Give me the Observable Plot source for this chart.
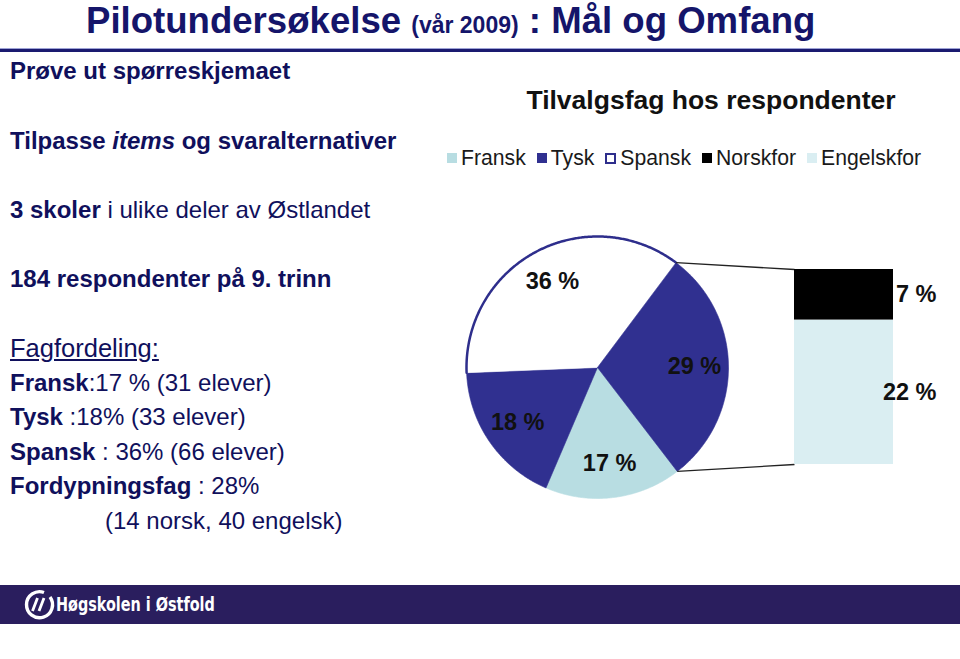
<!DOCTYPE html>
<html><head><meta charset="utf-8">
<script src="https://cdn.jsdelivr.net/npm/d3@7"></script>
<script src="https://cdn.jsdelivr.net/npm/@observablehq/plot@0.6"></script>
<style>
html,body{margin:0;padding:0;background:#fff;}
#slide{position:relative;width:960px;height:659px;overflow:hidden;font-family:"Liberation Sans",Arial,sans-serif;}
.t{position:absolute;white-space:nowrap;line-height:1;}
.navy{color:#10105c;}
#chart{position:absolute;left:440px;top:220px;}
.leg{position:absolute;left:447px;top:147px;display:flex;align-items:center;font-size:21.2px;line-height:22px;color:#1a1a1a;white-space:nowrap;}
.leg .it{display:flex;align-items:center;margin-right:11px;}
.leg .sw{width:10px;height:10px;margin-right:4px;box-sizing:border-box;}
</style></head><body><div id="slide"></div>
<script>
// ---- data ----
const pieNames = ["Fransk", "Tysk", "Spansk"];
const piePupils = [31, 33, 66];
const pieLabels = ["17 %", "18 %", "36 %"];
const otherName = "Fordypningsfag";
const otherLabel = "29 %";
const barNames = ["Norskfor", "Engelskfor"];
const barPupils = [14, 40];
const barLabels = ["7 %", "22 %"];
const legendNames = ["Fransk", "Tysk", "Spansk", "Norskfor", "Engelskfor"];
const chartTitle = "Tilvalgsfag hos respondenter";

const colors = {Fransk:"#b8dde2", Tysk:"#303090", Spansk:"#ffffff", Fordypningsfag:"#303090", Norskfor:"#000000", Engelskfor:"#daeef2"};
const spanskEdge = "#2e2e8c";

const slide = document.getElementById("slide");
function addText(html, x, cy, size, extra) {
  const d = document.createElement("div");
  d.className = "t navy";
  d.style.left = x + "px";
  d.style.top = (cy - size / 2) + "px";
  d.style.fontSize = size + "px";
  if (extra) Object.assign(d.style, extra);
  d.innerHTML = html;
  slide.appendChild(d);
  return d;
}

// title + rule
addText('<b>Pilotundersøkelse <span style="font-size:23px">(vår 2009)</span> : Mål og Omfang</b>', 86, 21, 36.6, {color:"#15156a"});
const rule = document.createElement("div");
Object.assign(rule.style, {position:"absolute", left:"0px", top:"48px", width:"960px", height:"3px", background:"#1a1a70", borderTop:"1px solid #9ea3d6"});
slide.appendChild(rule);

// left text
const S = 24;
addText("<b>Prøve ut spørreskjemaet</b>", 10, 71, S);
addText("<b>Tilpasse <i>items</i> og svaralternativer</b>", 10, 141, S);
addText("<b>3 skoler</b> i ulike deler av Østlandet", 10, 210, S);
addText("<b>184 respondenter på 9. trinn</b>", 10, 279, S);
addText('<span style="text-decoration:underline">Fagfordeling:</span>', 10, 349, 25.5);
addText("<b>Fransk</b>:17 % (31 elever)", 10, 383, S);
addText("<b>Tysk</b> :18% (33 elever)", 10, 417, S);
addText("<b>Spansk</b> : 36% (66 elever)", 10, 452, S);
addText("<b>Fordypningsfag</b> : 28%", 10, 486, S);
addText("(14 norsk, 40 engelsk)", 105, 521, S);

// chart title
addText("<b>" + chartTitle + "</b>", 711 - 480, 100, 26.5, {color:"#111", width:"960px", textAlign:"center"});

// legend
const leg = document.createElement("div");
leg.className = "leg";
legendNames.forEach(n => {
  const it = document.createElement("div"); it.className = "it";
  const sw = document.createElement("div"); sw.className = "sw";
  if (n === "Spansk") { sw.style.background = "#fff"; sw.style.border = "2px solid " + spanskEdge; sw.style.width = "11px"; sw.style.height = "11px"; }
  else sw.style.background = colors[n];
  const tx = document.createElement("span"); tx.textContent = n;
  it.appendChild(sw); it.appendChild(tx); leg.appendChild(it);
});
slide.appendChild(leg);

// ---- pie of pie chart ----
const W = 520, H = 290, R = 131;           // px; pie radius = 1 unit
const cx = 157, cy = 147;                  // pie centre inside the plot
const total = d3.sum(piePupils) + d3.sum(barPupils);
const slices = pieNames.map((n, i) => ({key:n, value:piePupils[i], label:pieLabels[i]}));
slices.push({key:otherName, value:d3.sum(barPupils), label:otherLabel});
let ang = 142.5 * Math.PI / 180;
slices.forEach(s => { s.a0 = ang; ang += s.value / total * 2 * Math.PI; s.a1 = ang; s.mid = (s.a0 + s.a1) / 2; });

function arcPts(a0, a1, withCenter) {
  const n = Math.max(2, Math.ceil((a1 - a0) / (Math.PI / 360)));
  const pts = [];
  if (withCenter) pts.push([0, 0]);
  for (let i = 0; i <= n; i++) { const t = a0 + (a1 - a0) * i / n; pts.push([Math.sin(t), Math.cos(t)]); }
  if (withCenter) pts.push([0, 0]);
  return pts;
}

// bar of pie
const barX1 = (794 - 440 - cx) / R, barX2 = (893 - 440 - cx) / R;
const barTop = (cy - (269 - 220)) / R, barBottom = (cy - (464 - 220)) / R;
const barTotal = d3.sum(barPupils);
const segs = [];
let yb = barBottom;
for (let i = barNames.length - 1; i >= 0; i--) {
  const h = barPupils[i] / barTotal * (barTop - barBottom);
  segs.push({key:barNames[i], y1:yb, y2:yb + h, label:barLabels[i]});
  yb += h;
}
const other = slices[slices.length - 1];
const links = [
  {x1:Math.sin(other.a0), y1:Math.cos(other.a0), x2:barX1, y2:barTop},
  {x1:Math.sin(other.a1), y1:Math.cos(other.a1), x2:barX1, y2:barBottom}
];
const spansk = slices.find(s => s.key === "Spansk");
const labelR = 0.74;

const plot = Plot.plot({
  width: W, height: H, margin: 0,
  x: {domain: [-cx / R, (W - cx) / R], axis: null},
  y: {domain: [(cy - H) / R, cy / R], axis: null},
  color: {type: "identity"},
  style: {fontFamily: "'Liberation Sans', Arial, sans-serif", background: "transparent"},
  marks: [
    ...slices.map(s => Plot.line(arcPts(s.a0, s.a1, true), {x: d => d[0], y: d => d[1], fill: colors[s.key], stroke: colors[s.key], strokeWidth: 0.6})),
    Plot.line(arcPts(spansk.a0, spansk.a1, false), {x: d => d[0], y: d => d[1], stroke: spanskEdge, strokeWidth: 2.5}),
    Plot.link(links, {x1: "x1", y1: "y1", x2: "x2", y2: "y2", stroke: "#222", strokeWidth: 1.3}),
    Plot.rect(segs, {x1: () => barX1, x2: () => barX2, y1: "y1", y2: "y2", fill: d => colors[d.key]}),
    Plot.text(slices, {x: d => labelR * Math.sin(d.mid), y: d => labelR * Math.cos(d.mid), text: "label", fontSize: 23.5, fontWeight: "bold", fill: "#111"}),
    Plot.text(segs, {x: () => (936 - 440 - cx) / R, y: d => (d.y1 + d.y2) / 2, text: "label", textAnchor: "end", fontSize: 23.5, fontWeight: "bold", fill: "#111"})
  ]
});
plot.id = "chart";
slide.appendChild(plot);

// footer
const foot = document.createElement("div");
Object.assign(foot.style, {position:"absolute", left:"0px", top:"585px", width:"960px", height:"39px", background:"#2a1e5e"});
foot.innerHTML = '<svg width="40" height="39" style="position:absolute;left:18px;top:0"><path d="M 26 7.5 A 13 13 0 1 0 32 12" fill="none" stroke="#fff" stroke-width="3.4"/><path d="M 14.5 26 L 19.5 13 M 21 26 L 26 13" stroke="#fff" stroke-width="2.8"/></svg>' +
  '<div style="position:absolute;left:56px;top:8px;color:#fff;font:bold 20px \'Liberation Sans Narrow\',\'DejaVu Sans Condensed\',sans-serif;line-height:22px;white-space:nowrap;transform:scaleX(0.8);transform-origin:0 0">Høgskolen i Østfold</div>';
slide.appendChild(foot);
</script></body></html>
